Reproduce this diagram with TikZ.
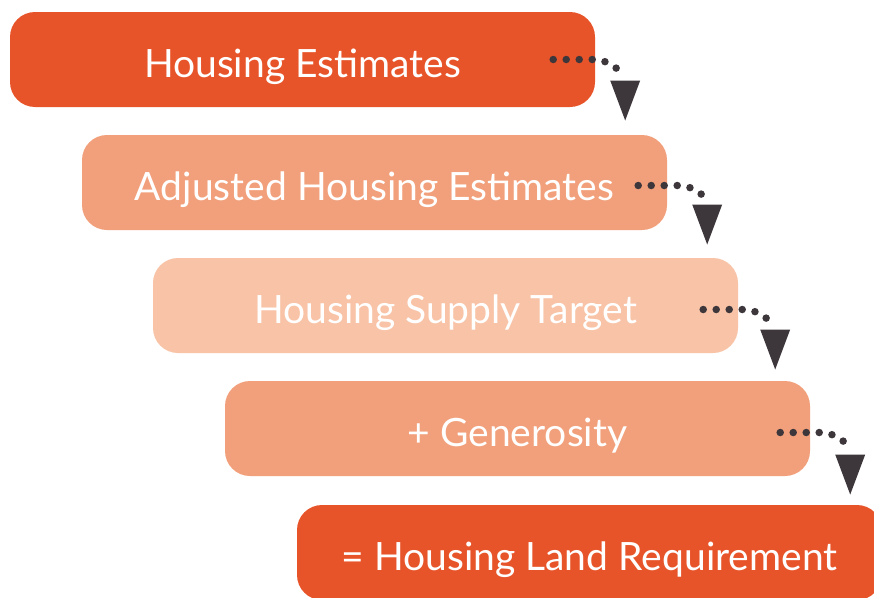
\documentclass[tikz,border=0pt]{standalone}
\usepackage{fontspec}
\setmainfont{Lato}
\usepackage{tikz}
\usetikzlibrary{positioning, calc}
\definecolor{naranjafuerte}{RGB}{232, 84, 41}
\definecolor{naranjamedio}{RGB}{242, 160, 123}
\definecolor{naranjaclaro}{RGB}{248, 195, 166}
\definecolor{gristinta}{RGB}{61, 55, 60}

\begin{document}
\begin{tikzpicture}[
    x=1pt, y=-1pt,
    box/.style={rectangle, rounded corners=25pt, fill=naranjafuerte, text=white, minimum width=585pt, minimum height=95pt, align=center, inner sep=0pt, text height=36pt, text depth=0pt, font=\fontsize{39}{43}\selectfont},
    dotline/.style={gristinta, line width=7.5pt, line cap=round, dash pattern=on 0pt off 13pt},
    headfill/.style={fill=gristinta}
]
\useasboundingbox (0,0) rectangle (874,597);
\clip (0,0) rectangle (874,597);

\node[box] (a) at (302.5,59.5) {Housing Estimates};
\node[box, fill=naranjamedio] (b) at ($(a)+(72,123)$) {Adjusted Housing Estimates};
\node[box, fill=naranjaclaro] (c) at ($(b)+(71,123)$) {Housing Supply Target};
\node[box, fill=naranjamedio] (d) at ($(c)+(72,123)$) {+ Generosity};
\node[box] (e) at ($(d)+(72,124)$) {= Housing Land Requirement};

% dotted leaders, each ending above a solid head
\coordinate (a1) at ($(a.east)+(-42,0)$);
\coordinate (b1) at ($(b.east)+(-29,3)$);
\coordinate (c1) at ($(c.east)+(-35,4)$);
\coordinate (d1) at ($(d.east)+(-30,4)$);

\coordinate (a2) at ($(a1)+(72,61)$);
\coordinate (b2) at ($(b1)+(69,59)$);
\coordinate (c2) at ($(c1)+(72,60)$);
\coordinate (d2) at ($(d1)+(70,62)$);

\draw[dotline] (a1) -- ++(39,0) .. controls +(11,0) and +(-4,-6) .. ++(26,11);
\draw[dotline] (b1) -- ++(39,0) .. controls +(11,0) and +(-4,-6) .. ++(26,11);
\draw[dotline] (c1) -- ++(39,0) .. controls +(11,0) and +(-4,-6) .. ++(26,11);
\draw[dotline] (d1) -- ++(39,0) .. controls +(11,0) and +(-4,-6) .. ++(26,11);

\fill[headfill] (a2) -- ++(-15,-40) -- ++(30,0) -- cycle;
\fill[headfill] (b2) -- ++(-15,-40) -- ++(30,0) -- cycle;
\fill[headfill] (c2) -- ++(-15,-40) -- ++(30,0) -- cycle;
\fill[headfill] (d2) -- ++(-15,-40) -- ++(30,0) -- cycle;
\end{tikzpicture}
\end{document}
